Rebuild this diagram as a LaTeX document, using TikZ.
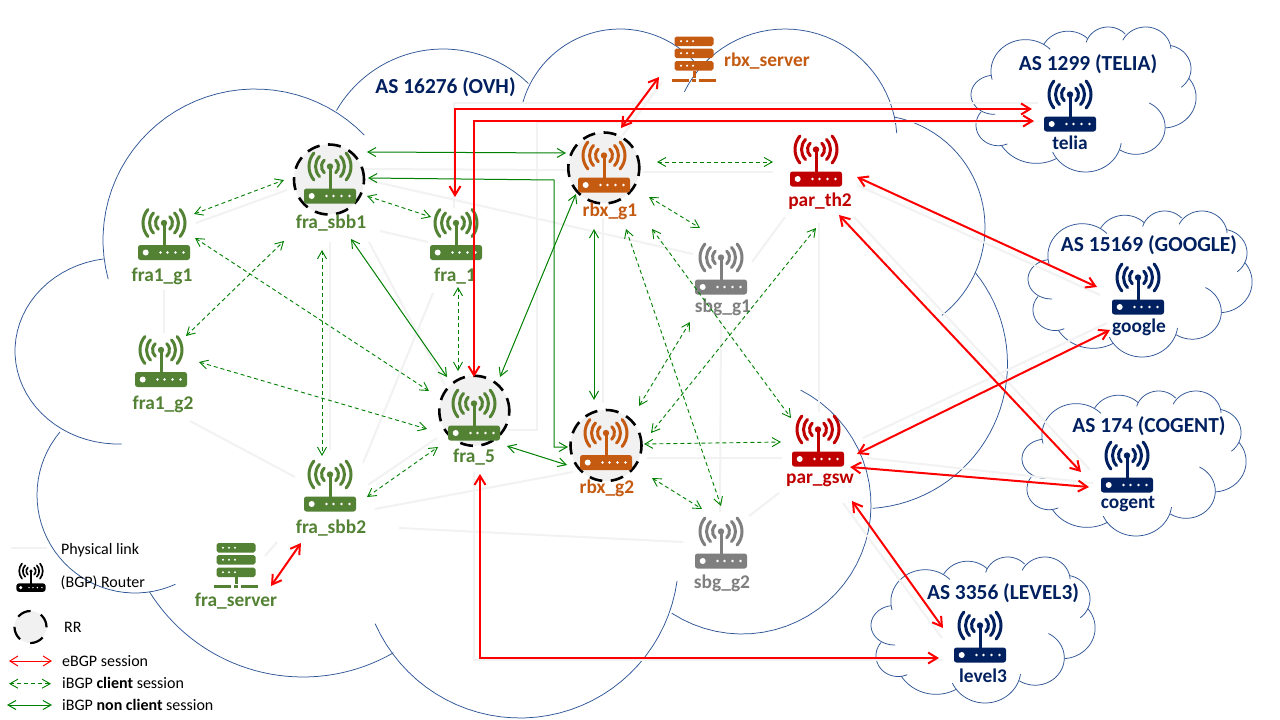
\documentclass[tikz,border=0pt]{standalone}
\usepackage{fontspec}
\setmainfont{Carlito}
\usetikzlibrary{arrows.meta}
\definecolor{cgreen}{HTML}{548235}
\definecolor{corange}{HTML}{C55A11}
\definecolor{cred}{HTML}{C00000}
\definecolor{cgray}{HTML}{7F7F7F}
\definecolor{cnavy}{HTML}{002060}
\definecolor{ccloud}{HTML}{2F5597}
\definecolor{clink}{HTML}{F2F2F2}
\definecolor{carrow}{HTML}{008000}
\tikzset{
  cloudline/.style={draw=ccloud,line width=0.75pt},
  plink/.style={draw=clink,line width=2pt},
  ebgp/.style={draw=red,line width=2pt,{Straight Barb[length=9pt,width=11pt]}-{Straight Barb[length=9pt,width=11pt]}},
  ebgpthin/.style={draw=red,line width=1pt,{Straight Barb[length=8pt,width=10pt]}-{Straight Barb[length=8pt,width=10pt]}},
  iclient/.style={draw=carrow,line width=0.9pt,dash pattern=on 4pt off 3pt,{Straight Barb[length=8pt,width=9pt]}-{Straight Barb[length=8pt,width=9pt]}},
  inonclient/.style={draw=carrow,line width=1pt,{Straight Barb[length=8pt,width=9pt]}-{Straight Barb[length=8pt,width=9pt]}},
  routernode/.style={inner sep=0pt,minimum width=52pt,minimum height=51pt},
  servernode/.style={inner sep=0pt,minimum width=44pt,minimum height=46pt},
  devlabel/.style={font=\fontsize{19.4}{21}\bfseries\selectfont,inner sep=0pt},
  astitle/.style={font=\fontsize{21.4}{23}\bfseries\selectfont,inner sep=0pt,text=cnavy},
  legendtext/.style={font=\fontsize{16}{18}\selectfont,inner sep=0pt,anchor=west,text=black},
  rrcircle/.style={circle,minimum size=#1,inner sep=0pt,fill=black!5.5,draw=black,line width=2.6pt},
}
% one lobe of a cloud: cx, cy, rx, ry, from angle, to angle
\newcommand\lobe[6]{\draw[cloudline] plot[domain=#5:#6,samples=36,variable=\t] ({#1+#3*cos(\t)},{#2-#4*sin(\t)});}
\newcommand\cloudarcs{%
  \lobe{255}{240}{152}{151}{44}{195}
  \lobe{443}{172}{123}{123}{150}{46}
  \lobe{620}{130}{101}{101}{164}{42}
  \lobe{785}{141}{112}{112}{154}{4}
  \lobe{873}{227}{112}{112}{79}{-52}
  \lobe{862.5}{363.7}{145}{145}{39}{-86}
  \lobe{742}{505}{129}{129}{63}{-123}
  \lobe{520}{559}{158.6}{159}{-8}{-156}
  \lobe{303}{496}{181}{181}{-60}{-148}
  \lobe{135}{495}{98}{98}{-65.6}{-220}
  \lobe{118}{351}{103}{93}{98}{272}
}
% cloud scaled to x0..x1, y0..y1
\newcommand\smallcloud[4]{%
  \begin{scope}[shift={(#1,#3)},xscale={(#2-#1)/992},yscale={(#4-#3)/689},shift={(-15,-29)}]
    \cloudarcs
  \end{scope}}
% router picture, centred: x,y,scale,colour
\newcommand\routericon[4]{%
  \begin{scope}[shift={(#1,#2)},scale=#3]
    \fill[#4,rounded corners=2.5pt] (-26,10.5) rectangle (26,25.5);
    \fill[white] (-18.3,18) circle[radius=3];
    \foreach \dx in {-3.5,3.5,11.5,19.5} \fill[white] (\dx,18) circle[radius=1.4];
    \draw[#4,line width=#3*3pt] (0,-11.5) -- (0,11);
    \fill[#4] (0,-11.5) circle[radius=3.2];
    \foreach \r/\a in {8.5/48,14.5/44,21/40}{
      \draw[#4,line width=#3*3pt,line cap=round] (0,-11.5) ++(\a:\r) arc[start angle=\a,end angle=-\a,radius=\r];
      \draw[#4,line width=#3*3pt,line cap=round] (0,-11.5) ++(180-\a:\r) arc[start angle=180-\a,end angle=180+\a,radius=\r];
    }
  \end{scope}}
% server picture: x,y,colour
\newcommand\servericon[3]{%
  \begin{scope}[shift={(#1,#2)}]
    \foreach \yy in {-22,-10,2.5}{
      \fill[#3,rounded corners=1.8pt] (-19.5,\yy) rectangle (19.5,\yy+9.5);
      \foreach \dx in {-13,-7,-1} \fill[white] (\dx,\yy+4.7) circle[radius=1.2];
    }
    \fill[#3] (-1.3,12) rectangle (1.6,19);
    \fill[#3] (-22,20) rectangle (-5,23);
    \fill[#3] (-2,20) rectangle (2,23);
    \fill[#3] (5,20) rectangle (22,23);
  \end{scope}}
\begin{document}
\begin{tikzpicture}[x=1pt,y=-1pt]
\useasboundingbox (0,0) rectangle (1280,720);
\fill[white] (0,0) rectangle (1280,720);

% clouds
\cloudarcs
\smallcloud{971}{1196}{27}{172}
\smallcloud{1028}{1252}{211}{357}
\smallcloud{1022}{1246}{391}{536}
\smallcloud{871}{1095}{557}{703}

% router and server nodes (named anchors)
\node[routernode] (fra1g1) at (164,234.5) {};
\node[routernode] (frasbb1) at (330,178) {};
\node[routernode] (fra1) at (456,234.5) {};
\node[routernode] (fra1g2) at (161,361.5) {};
\node[routernode] (frasbb2) at (330,486) {};
\node[routernode] (fra5) at (474,415) {};
\node[routernode] (rbxg1) at (604,167) {};
\node[routernode] (rbxg2) at (606,444.5) {};
\node[routernode] (parth2) at (816,161) {};
\node[routernode] (pargsw) at (818,441) {};
\node[routernode] (sbgg1) at (721,269) {};
\node[routernode] (sbgg2) at (721,543) {};
\node[routernode] (telia) at (1070,106) {};
\node[routernode] (google) at (1138,289) {};
\node[routernode] (cogent) at (1127,467) {};
\node[routernode] (level3) at (980,637) {};
\node[servernode] (fraserver) at (236,565) {};
\node[servernode] (rbxserver) at (694,58.5) {};

% physical links
\draw[plink] ([shift={(32,-11.5)}]fra1g1.center) -- ([shift={(-43,12)}]frasbb1.center);
\draw[plink] ([shift={(0,55.5)}]fra1g1.center) -- ([shift={(3,-28.5)}]fra1g2.center);
\draw[plink] ([shift={(50,53)}]frasbb1.center) -- ([shift={(-28,7.5)}]fra1.center);
\draw[plink] ([shift={(0,64)}]frasbb1.center) -- ([shift={(0,-36)}]frasbb2.center);
\draw[plink] ([shift={(39,64)}]frasbb1.center) -- ([shift={(-29,-30)}]fra5.center);
\draw[plink] ([shift={(37,2)}]frasbb1.center) -- ([shift={(-28,-15)}]sbgg1.center);
\draw[plink] ([shift={(32,-9)}]frasbb1.center) -- ([shift={(-37,3)}]rbxg1.center);
\draw[plink] ([shift={(-2,-26.5)}]fra1.center) |- ([shift={(-32,-3)}]telia.center);
\draw[plink] ([shift={(34,15)}]fra5.center) -- ++(29,0) |- ([shift={(-35,16)}]telia.center);
\draw[plink] ([shift={(-23,58.5)}]fra1.center) -- ([shift={(33,-23)}]frasbb2.center);
\draw[plink] ([shift={(-37,23)}]fra5.center) -- ([shift={(38,-1)}]frasbb2.center);
\draw[plink] ([shift={(-35,-9)}]frasbb2.center) -- ([shift={(29,59.5)}]fra1g2.center);
\draw[plink] ([shift={(45,23)}]frasbb2.center) -- ([shift={(-33,27.5)}]rbxg2.center);
\draw[plink] ([shift={(69,42)}]frasbb2.center) -- ([shift={(-38,-1)}]sbgg2.center);
\draw[plink] ([shift={(-53,56)}]frasbb2.center) -- ([shift={(29,-9)}]fraserver.center);
\draw[plink] ([shift={(0,57)}]fra5.center) |- ([shift={(-37,23)}]level3.center);
\draw[plink] ([shift={(19,-32)}]rbxg1.center) -- ([shift={(-32,23.5)}]rbxserver.center);
\draw[plink] ([shift={(39,5)}]rbxg1.center) -- ([shift={(-43,11)}]parth2.center);
\draw[plink] ([shift={(-1,51)}]rbxg1.center) -- ([shift={(-3,-41.5)}]rbxg2.center);
\draw[plink] ([shift={(41,13.5)}]rbxg2.center) -- ([shift={(-36,17)}]pargsw.center);
\draw[plink] ([shift={(0,51)}]sbgg1.center) -- ([shift={(-1,-31)}]sbgg2.center);
\draw[plink] ([shift={(31,-7)}]sbgg1.center) -- ([shift={(-31,56)}]parth2.center);
\draw[plink] ([shift={(3,62)}]parth2.center) -- ([shift={(1,-29)}]pargsw.center);
\draw[plink] ([shift={(28,-27)}]sbgg2.center) -- ([shift={(-39,52)}]pargsw.center);
\draw[plink] ([shift={(41,24)}]parth2.center) -- ([shift={(-38,6)}]google.center);
\draw[plink] ([shift={(38,56)}]parth2.center) -- ([shift={(-37,3)}]cogent.center);
\draw[plink] ([shift={(45,-3)}]pargsw.center) -- ([shift={(-31,34)}]google.center);
\draw[plink] ([shift={(49,17)}]pargsw.center) -- ([shift={(-34,16)}]cogent.center);
\draw[plink] ([shift={(25,62)}]pargsw.center) -- ([shift={(-38,1)}]level3.center);

% route reflector rings
\node[rrcircle=70pt,dash pattern=on 13pt off 8.5pt] (rrfrasbb1) at (329,179.5) {};
\node[rrcircle=70pt,dash pattern=on 13pt off 8.5pt] (rrfra5) at (474.3,410.8) {};
\node[rrcircle=71pt,dash pattern=on 13pt off 8.5pt] (rrrbxg1) at (603.8,168) {};
\node[rrcircle=71pt,dash pattern=on 13pt off 8.5pt] (rrrbxg2) at (606,445.5) {};

% icons
\routericon{164}{234.5}{1}{cgreen}
\routericon{330}{178}{1}{cgreen}
\routericon{456}{234.5}{1}{cgreen}
\routericon{161}{361.5}{1}{cgreen}
\routericon{330}{486}{1}{cgreen}
\routericon{474}{415}{1}{cgreen}
\routericon{604}{167}{1}{corange}
\routericon{606}{444.5}{1}{corange}
\routericon{816}{161}{1}{cred}
\routericon{818}{441}{1}{cred}
\routericon{721}{269}{1}{cgray}
\routericon{721}{543}{1}{cgray}
\routericon{1070}{106}{1}{cnavy}
\routericon{1138}{289}{1}{cnavy}
\routericon{1127}{467}{1}{cnavy}
\routericon{980}{637}{1}{cnavy}
\servericon{236}{565}{cgreen}
\servericon{694}{58.5}{corange}

% device labels
\node[devlabel,text=cgreen] (lfra1g1) at (162,276) {fra1\_g1};
\node[devlabel,text=cgreen] (lfrasbb1) at (331,223) {fra\_sbb1};
\node[devlabel,text=cgreen] (lfra1) at (455,276) {fra\_1};
\node[devlabel,text=cgreen] (lfra1g2) at (163,404) {fra1\_g2};
\node[devlabel,text=cgreen] (lfrasbb2) at (331,528) {fra\_sbb2};
\node[devlabel,text=cgreen] (lfra5) at (474,457) {fra\_5};
\node[devlabel,text=cgreen] (lfraserver) at (236,601.5) {fra\_server};
\node[devlabel,text=corange] (lrbxg1) at (610,211) {rbx\_g1};
\node[devlabel,text=corange] (lrbxg2) at (607,488) {rbx\_g2};
\node[devlabel,text=corange] (lrbxserver) at (767,61) {rbx\_server};
\node[devlabel,text=cred] (lparth2) at (820,201) {par\_th2};
\node[devlabel,text=cred] (lpargsw) at (820,480) {par\_gsw};
\node[devlabel,text=cgray] (lsbgg1) at (723,307) {sbg\_g1};
\node[devlabel,text=cgray] (lsbgg2) at (722,583) {sbg\_g2};
\node[devlabel,text=cnavy] (ltelia) at (1070,143) {telia};
\node[devlabel,text=cnavy] (lgoogle) at (1139,327) {google};
\node[devlabel,text=cnavy] (lcogent) at (1128,504) {cogent};
\node[devlabel,text=cnavy] (llevel3) at (983,676) {level3};

% AS titles
\node[astitle] (asovh) at (445.5,87) {AS 16276 (OVH)};
\node[astitle] (astelia) at (1088,64) {AS 1299 (TELIA)};
\node[astitle] (asgoogle) at (1149,245) {AS 15169 (GOOGLE)};
\node[astitle] (ascogent) at (1149,426) {AS 174 (COGENT)};
\node[astitle] (aslevel) at (1003,593) {AS 3356 (LEVEL3)};

% iBGP client sessions
\draw[iclient] ([shift={(30,-20.5)}]fra1g1.center) -- ([shift={(-46,2)}]frasbb1.center);
\draw[iclient] ([shift={(25,-25.5)}]fra1g2.center) -- ([shift={(-46,63)}]frasbb1.center);
\draw[iclient] ([shift={(31,3.5)}]fra1g1.center) -- ([shift={(-45,-24)}]fra5.center);
\draw[iclient] ([shift={(38,0.5)}]fra1g2.center) -- ([shift={(-47,14)}]fra5.center);
\draw[iclient] ([shift={(-8,72)}]frasbb1.center) -- ([shift={(-8,-30)}]frasbb2.center);
\draw[iclient] ([shift={(37,18)}]frasbb1.center) -- ([shift={(-25,-17.5)}]fra1.center);
\draw[iclient] ([shift={(2,52.5)}]fra1.center) -- ([shift={(-16,-44)}]fra5.center);
\draw[iclient] ([shift={(37,11)}]frasbb2.center) -- ([shift={(-36,32)}]fra5.center);
\draw[iclient] ([shift={(53,-5)}]rbxg1.center) -- ([shift={(-43,1)}]parth2.center);
\draw[iclient] ([shift={(45,30)}]rbxg1.center) -- ([shift={(-21,-41)}]sbgg1.center);
\draw[iclient] ([shift={(48,62)}]rbxg1.center) -- ([shift={(-27,-23)}]pargsw.center);
\draw[iclient] ([shift={(22,62)}]rbxg1.center) -- ([shift={(0,-37)}]sbgg2.center);
\draw[iclient] ([shift={(-31,53)}]sbgg1.center) -- ([shift={(33,-38.5)}]rbxg2.center);
\draw[iclient] ([shift={(0,67)}]parth2.center) -- ([shift={(45,-11.5)}]rbxg2.center);
\draw[iclient] ([shift={(38,-0.5)}]rbxg2.center) -- ([shift={(-37,1)}]pargsw.center);
\draw[iclient] ([shift={(46,33.5)}]rbxg2.center) -- ([shift={(-19,-34)}]sbgg2.center);

% iBGP non client sessions
\draw[inonclient] ([shift={(37,-26)}]frasbb1.center) -- ([shift={(-38,-14)}]rbxg1.center);
\draw[inonclient] ([shift={(38,0)}]frasbb1.center) -- ++(186,2) |- ([shift={(-38,2.5)}]rbxg2.center);
\draw[inonclient] ([shift={(21,61)}]frasbb1.center) -- ([shift={(-27,-38)}]fra5.center);
\draw[inonclient] ([shift={(26,-38)}]fra5.center) -- ([shift={(-28,27)}]rbxg1.center);
\draw[inonclient] ([shift={(-10,62)}]rbxg1.center) -- ([shift={(-12,-44.5)}]rbxg2.center);
\draw[inonclient] ([shift={(33,31)}]fra5.center) -- ([shift={(-39,20.5)}]rbxg2.center);

% eBGP sessions
\draw[ebgp] ([shift={(-35,18.5)}]rbxserver.center) -- ([shift={(17,-39)}]rbxg1.center);
\draw[ebgp] ([shift={(-1,-37.5)}]fra1.center) |- ([shift={(-38,3)}]telia.center);
\draw[ebgp] ([shift={(0,-38)}]fra5.center) |- ([shift={(-36,15)}]telia.center);
\draw[ebgp] ([shift={(6,59)}]fra5.center) |- ([shift={(-41,21)}]level3.center);
\draw[ebgp] ([shift={(41,16)}]parth2.center) -- ([shift={(-41,-2)}]google.center);
\draw[ebgp] ([shift={(23,54)}]parth2.center) -- ([shift={(-46,5)}]cogent.center);
\draw[ebgp] ([shift={(39,13)}]pargsw.center) -- ([shift={(-28,41)}]google.center);
\draw[ebgp] ([shift={(32,26)}]pargsw.center) -- ([shift={(-38,20)}]cogent.center);
\draw[ebgp] ([shift={(34,60)}]pargsw.center) -- ([shift={(-37,-9)}]level3.center);
\draw[ebgp] ([shift={(-29,57)}]frasbb2.center) -- ([shift={(35,21)}]fraserver.center);

% legend
\coordinate (lkA) at (11,548);
\coordinate (lkB) at (47,548);
\draw[plink] (lkA) -- (lkB);
\node[legendtext] (tlink) at (61,550) {Physical link};
\node[routernode,scale=0.56] (legrouter) at (31,577.5) {};
\routericon{31}{577.5}{0.56}{black}
\node[legendtext] (trouter) at (60.5,583) {(BGP) Router};
\node[rrcircle=32pt,dash pattern=on 14pt off 11pt,line width=2.2pt] (legrr) at (30.5,627) {};
\node[legendtext] (trr) at (64,627) {RR};
\coordinate (leA) at (9,661);
\coordinate (leB) at (52,661);
\draw[ebgpthin] (leA) -- (leB);
\node[legendtext] (tebgp) at (62,661) {eBGP session};
\coordinate (lcA) at (9,683.7);
\coordinate (lcB) at (51,683.7);
\draw[iclient] (lcA) -- (lcB);
\node[legendtext] (tclient) at (62,683) {iBGP {\bfseries client} session};
\coordinate (lnA) at (7,705);
\coordinate (lnB) at (52,705);
\draw[inonclient] (lnA) -- (lnB);
\node[legendtext] (tnon) at (62,705) {iBGP {\bfseries non client} session};
\end{tikzpicture}
\end{document}
